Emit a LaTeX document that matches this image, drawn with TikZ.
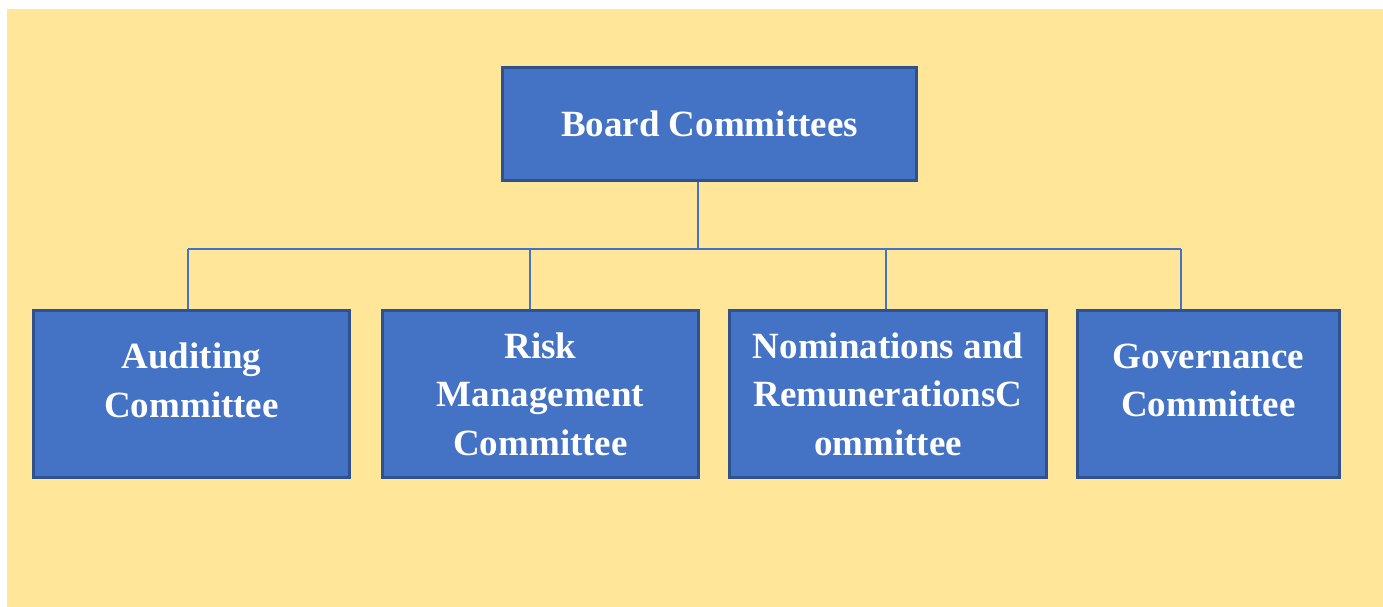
\documentclass[tikz,border=0pt]{standalone}
\usepackage{fontspec}
\setmainfont{Liberation Serif}
\usepackage{xcolor}
\definecolor{pagebg}{HTML}{FFE699}
\definecolor{boxfill}{HTML}{4472C4}
\definecolor{boxline}{HTML}{2F528F}

\begin{document}
\begin{tikzpicture}[x=1pt, y=-1pt,
            box/.style={draw=boxline, line width=2.2pt, fill=boxfill, rectangle, align=center,
                        text=white, font=\fontsize{37}{48.5}\selectfont\bfseries, inner sep=0pt},
            raised/.style={text depth=28pt},
            link/.style={draw=boxfill, line width=1.6pt}
            ]

            % Page and background
            \useasboundingbox (0,0) rectangle (1383,607);
            \fill[pagebg] (7,9) rectangle (1383,607);

            % Nodes with manual coordinates
            \node[box, minimum width=414pt, minimum height=113pt] (board) at (709.5,124) {Board Committees};
            \node[box, raised, minimum width=316pt, minimum height=167pt] (audit) at (191.5,394) {Auditing\\Committee};
            \node[box, minimum width=316pt, minimum height=167pt] (risk) at (540.5,394) {Risk\\Management\\Committee};
            \node[box, minimum width=317pt, minimum height=167pt] (nomin) at (888,394) {Nominations and\\RemunerationsC\\ommittee};
            \node[box, raised, minimum width=262pt, minimum height=167pt] (gov) at (1208.5,394) {Governance\\Committee};

            % Bus points
            \coordinate (hub) at (698,249);
            \coordinate (busA) at (188,249);
            \coordinate (busB) at (530,249);
            \coordinate (busC) at (886,249);
            \coordinate (busD) at (1181,249);

            % Lines
            \draw[link] (hub |- board.south) -- (hub);
            \draw[link] (busA) -- (busD);
            \draw[link] (busA) -- (busA |- audit.north);
            \draw[link] (busB) -- (busB |- risk.north);
            \draw[link] (busC) -- (busC |- nomin.north);
            \draw[link] (busD) -- (busD |- gov.north);
        \end{tikzpicture}
\end{document}
